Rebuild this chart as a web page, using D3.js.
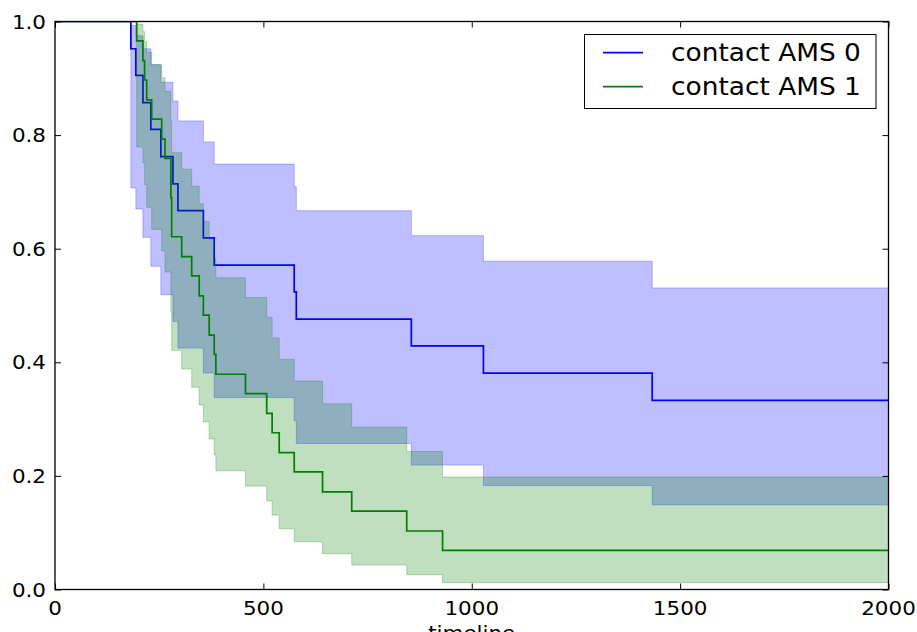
<!DOCTYPE html>
<html>
<head>
<meta charset="utf-8">
<script src="https://cdn.jsdelivr.net/npm/d3@7/dist/d3.min.js"></script>
<style>
  html, body { margin: 0; padding: 0; background: #fff; }
  svg { display: block; font-family: "DejaVu Sans", sans-serif; }
</style>
</head>
<body>
<svg id="chart" width="917" height="632"></svg>
<script>
// Kaplan-Meier survival estimates with 95% confidence bands, by contact AMS group.
const timeline0 = [0, 182, 194, 211, 230, 254, 283, 295, 356, 382, 574, 579, 855, 1028, 1433];
const survival0 = [1, 0.952, 0.905, 0.857, 0.810, 0.762, 0.714, 0.667, 0.619, 0.571, 0.524, 0.476, 0.429, 0.381, 0.333];
const upper0    = [1, 0.993, 0.975, 0.952, 0.924, 0.893, 0.860, 0.825, 0.788, 0.749, 0.709, 0.667, 0.623, 0.578, 0.531];
const lower0    = [1, 0.707, 0.670, 0.620, 0.569, 0.519, 0.472, 0.425, 0.381, 0.338, 0.297, 0.257, 0.219, 0.183, 0.149];

const timeline1 = [0, 196, 211, 215, 220, 232, 256, 264, 278, 280, 304, 328, 346, 356, 370, 382, 386, 457, 508, 521, 538, 574, 642, 712, 844, 930];
const survival1 = [1, 0.966, 0.931, 0.897, 0.862, 0.828, 0.793, 0.759, 0.690, 0.621, 0.586, 0.552, 0.517, 0.483, 0.448, 0.414, 0.379, 0.345, 0.310, 0.276, 0.241, 0.207, 0.172, 0.138, 0.103, 0.069];
const upper1    = [1, 0.995, 0.982, 0.965, 0.946, 0.924, 0.901, 0.877, 0.825, 0.769, 0.740, 0.710, 0.679, 0.648, 0.616, 0.583, 0.549, 0.514, 0.479, 0.443, 0.405, 0.367, 0.327, 0.286, 0.243, 0.198];
const lower1    = [1, 0.779, 0.751, 0.713, 0.673, 0.634, 0.596, 0.559, 0.488, 0.421, 0.388, 0.356, 0.325, 0.295, 0.265, 0.237, 0.209, 0.182, 0.156, 0.131, 0.107, 0.084, 0.063, 0.043, 0.026, 0.012];

const seriesNames = ["contact AMS 0", "contact AMS 1"];
const seriesColors = ["#0000ff", "#008000"];
const xTicks = [0, 500, 1000, 1500, 2000];
const yTicks = [0.0, 0.2, 0.4, 0.6, 0.8, 1.0];
const xDomain = [0, 2000];
const xLabel = "timeline";

const margin = { left: 55, right: 917 - 888.5, top: 21.5, bottom: 632 - 589.5 };
const W = 917, H = 632;
const textStretch = 1.1;

const svg = d3.select("#chart");
const x = d3.scaleLinear().domain(xDomain).range([margin.left, W - margin.right]);
const y = d3.scaleLinear().domain([0, 1]).range([H - margin.bottom, margin.top]);

svg.append("defs").append("clipPath").attr("id", "plot-clip")
  .append("rect")
  .attr("x", x(0)).attr("y", y(1))
  .attr("width", x(2000) - x(0)).attr("height", y(0) - y(1));

const groups = [
  { t: timeline0, s: survival0, hi: upper0, lo: lower0 },
  { t: timeline1, s: survival1, hi: upper1, lo: lower1 }
];

// extend each step series to the right edge of the axis
function rows(g) {
  const r = g.t.map((t, i) => ({ t, s: g.s[i], hi: g.hi[i], lo: g.lo[i] }));
  const last = r[r.length - 1];
  r.push({ t: xDomain[1], s: last.s, hi: last.hi, lo: last.lo });
  return r;
}

const plot = svg.append("g").attr("clip-path", "url(#plot-clip)");

const band = d3.area().curve(d3.curveStepAfter)
  .x(d => x(d.t)).y0(d => y(d.lo)).y1(d => y(d.hi));
const line = d3.line().curve(d3.curveStepAfter)
  .x(d => x(d.t)).y(d => y(d.s));

groups.forEach((g, i) => {
  const data = rows(g);
  plot.append("path").datum(data)
    .attr("d", band)
    .attr("fill", seriesColors[i]).attr("fill-opacity", 0.25)
    .attr("stroke", seriesColors[i]).attr("stroke-opacity", 0.25)
    .attr("stroke-width", 1);
  plot.append("path").datum(data)
    .attr("d", line)
    .attr("fill", "none")
    .attr("stroke", seriesColors[i]).attr("stroke-width", 1.7);
});

// axes: classic inward ticks on all four sides
const tickLen = 6;
const axisG = svg.append("g");
const fmtY = d3.format(".1f");

const xAxisBottom = d3.axisBottom(x).tickValues(xTicks).tickSize(-tickLen).tickFormat("");
const xAxisTop = d3.axisTop(x).tickValues(xTicks).tickSize(-tickLen).tickFormat("");
const yAxisLeft = d3.axisLeft(y).tickValues(yTicks).tickSize(-tickLen).tickFormat("");
const yAxisRight = d3.axisRight(y).tickValues(yTicks).tickSize(-tickLen).tickFormat("");

axisG.append("g").attr("transform", `translate(0,${y(0)})`).call(xAxisBottom);
axisG.append("g").attr("transform", `translate(0,${y(1)})`).call(xAxisTop);
axisG.append("g").attr("transform", `translate(${x(0)},0)`).call(yAxisLeft);
axisG.append("g").attr("transform", `translate(${x(2000)},0)`).call(yAxisRight);
axisG.selectAll(".domain").remove();
axisG.selectAll(".tick line").attr("stroke", "#000").attr("stroke-width", 1);

svg.append("rect")
  .attr("x", x(0)).attr("y", y(1))
  .attr("width", x(2000) - x(0)).attr("height", y(0) - y(1))
  .attr("fill", "none").attr("stroke", "#000").attr("stroke-width", 1.3);

const tickFont = 19.5;
function stretchedText(sel, px, py, str, anchor, size) {
  sel.append("text")
    .attr("transform", `translate(${px},${py}) scale(${textStretch},1)`)
    .attr("text-anchor", anchor)
    .attr("font-size", size)
    .attr("fill", "#000")
    .text(str);
}

xTicks.forEach(v => stretchedText(svg, x(v), y(0) + 25, String(v), "middle", tickFont));
yTicks.forEach(v => stretchedText(svg, x(0) - 9, y(v) + 7, fmtY(v), "end", tickFont));
stretchedText(svg, (x(0) + x(2000)) / 2, 640, xLabel, "middle", tickFont);

// legend
const legend = svg.append("g");
legend.append("rect")
  .attr("x", 584.5).attr("y", 34.5).attr("width", 291.5).attr("height", 74)
  .attr("fill", "#fff").attr("stroke", "#000").attr("stroke-width", 1);
seriesNames.forEach((name, i) => {
  const ly = 52.7 + i * 34;
  legend.append("line")
    .attr("x1", 603).attr("x2", 643).attr("y1", ly).attr("y2", ly)
    .attr("stroke", seriesColors[i]).attr("stroke-width", 1.7);
  stretchedText(legend, 671, ly + 8.5, name, "start", 24);
});
</script>
</body>
</html>
